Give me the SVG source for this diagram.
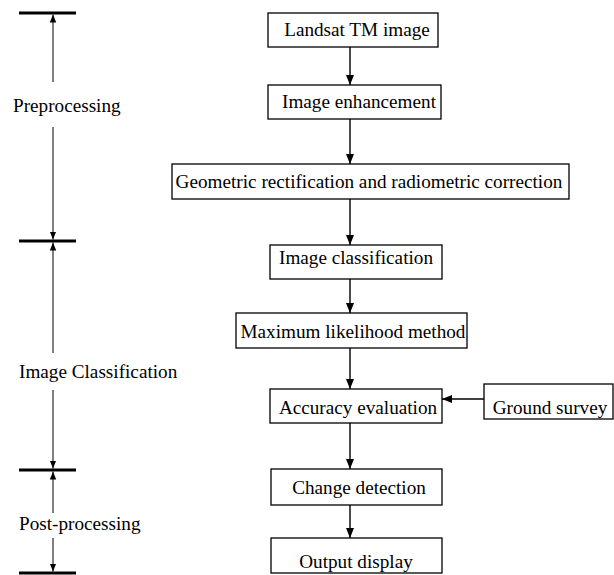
<svg xmlns="http://www.w3.org/2000/svg" width="614" height="575" viewBox="0 0 614 575">
<style>
.box{fill:#fff;stroke:#000;stroke-width:1.3}
.t{font-family:"Liberation Serif","Times New Roman",serif;font-size:19.2px;fill:#000}
.c{text-anchor:middle}
.arr{stroke:#000;stroke-width:1.4;fill:none;marker-end:url(#ah)}
.thin{stroke:#000;stroke-width:1;fill:none;marker-end:url(#ahs)}
.bar{stroke:#000;stroke-width:3}
</style>
<defs>
<marker id="ah" markerUnits="userSpaceOnUse" markerWidth="10" markerHeight="10" viewBox="0 0 10 10" refX="10" refY="5" orient="auto">
<path d="M0,1 L10,5 L0,9 Z" fill="#000"/>
</marker>
<marker id="ahs" markerUnits="userSpaceOnUse" markerWidth="8" markerHeight="8" viewBox="0 0 10 10" refX="10" refY="5" orient="auto">
<path d="M0,1 L10,5 L0,9 Z" fill="#000"/>
</marker>
</defs>
<rect width="614" height="575" fill="#fff"/>

<g id="stages">
<line class="bar" x1="19" y1="13" x2="76" y2="13"/>
<line class="bar" x1="19" y1="241" x2="76" y2="241"/>
<line class="bar" x1="19" y1="470" x2="76" y2="470"/>
<line class="bar" x1="19" y1="573" x2="76" y2="573"/>
<line class="thin" x1="53" y1="82" x2="53" y2="14.5"/>
<line class="thin" x1="53" y1="127" x2="53" y2="239.5"/>
<line class="thin" x1="53" y1="353" x2="53" y2="242.5"/>
<line class="thin" x1="53" y1="390" x2="53" y2="468.5"/>
<line class="thin" x1="53" y1="513" x2="53" y2="471.5"/>
<line class="thin" x1="53" y1="538" x2="53" y2="571.5"/>
<text class="t" x="13" y="112">Preprocessing</text>
<text class="t" x="19" y="378">Image Classification</text>
<text class="t" x="19" y="530">Post-processing</text>
</g>

<g id="connectors">
<line class="arr" x1="350" y1="47" x2="350" y2="85"/>
<line class="arr" x1="350" y1="119" x2="350" y2="164"/>
<line class="arr" x1="350" y1="199" x2="350" y2="245"/>
<line class="arr" x1="350" y1="279" x2="350" y2="313"/>
<line class="arr" x1="350" y1="348" x2="350" y2="389"/>
<line class="arr" x1="350" y1="423" x2="350" y2="469"/>
<line class="arr" x1="350" y1="505" x2="350" y2="538"/>
<line class="arr" x1="484" y1="399" x2="442" y2="399"/>
</g>

<g id="n1"><rect class="box" x="268" y="13" width="170" height="34"/><text class="t c" x="357" y="36">Landsat TM image</text></g>
<g id="n2"><rect class="box" x="268" y="85" width="173" height="34"/><text class="t c" x="359" y="108">Image enhancement</text></g>
<g id="n3"><rect class="box" x="172" y="164" width="397" height="35"/><text class="t c" x="369" y="188">Geometric rectification and radiometric correction</text></g>
<g id="n4"><rect class="box" x="270" y="245" width="172" height="34"/><text class="t c" x="356" y="264">Image classification</text></g>
<g id="n5"><rect class="box" x="236" y="313" width="231" height="35"/><text class="t c" x="353" y="338">Maximum likelihood method</text></g>
<g id="n6"><rect class="box" x="270" y="389" width="172" height="34"/><text class="t c" x="358" y="414">Accuracy evaluation</text></g>
<g id="n7"><rect class="box" x="484" y="384" width="129" height="35"/><text class="t c" x="550" y="414">Ground survey</text></g>
<g id="n8"><rect class="box" x="271" y="469" width="171" height="36"/><text class="t c" x="359" y="494">Change detection</text></g>
<g id="n9"><rect class="box" x="271" y="538" width="171" height="35"/><text class="t c" x="356" y="568">Output display</text></g>
</svg>
